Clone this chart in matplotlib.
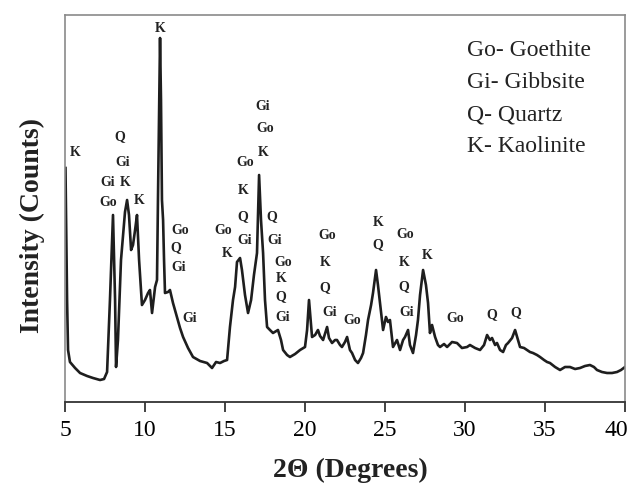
import matplotlib
matplotlib.use("Agg")
import matplotlib.pyplot as plt
import matplotlib.transforms as mtransforms

# XRD pattern (2-theta in degrees, intensity in arbitrary counts)
two_theta = [5.03, 5.13, 5.19, 5.31, 5.63, 5.94, 6.38, 6.75, 7.19, 7.44, 7.63, 7.81,
             8.0, 8.13, 8.19, 8.31, 8.5, 8.75, 8.88, 9.0, 9.13, 9.25, 9.38, 9.5,
             9.63, 9.81, 10.0, 10.19, 10.31, 10.44, 10.63, 10.75, 10.81, 10.94, 11.0, 11.06,
             11.13, 11.19, 11.25, 11.44, 11.56, 11.75, 12.0, 12.19, 12.38, 12.69, 13.0, 13.44,
             13.88, 14.19, 14.44, 14.69, 14.94, 15.13, 15.31, 15.5, 15.63, 15.75, 15.94, 16.06,
             16.25, 16.44, 16.63, 16.81, 17.0, 17.13, 17.25, 17.38, 17.5, 17.63, 17.81, 18.0,
             18.31, 18.5, 18.63, 18.88, 19.06, 19.38, 19.69, 20.0, 20.13, 20.25, 20.44, 20.63,
             20.81, 20.94, 21.13, 21.38, 21.5, 21.69, 21.88, 22.0, 22.19, 22.31, 22.5, 22.63,
             22.81, 22.94, 23.13, 23.31, 23.5, 23.63, 23.81, 23.94, 24.13, 24.25, 24.44, 24.56,
             24.69, 24.88, 25.06, 25.19, 25.31, 25.5, 25.75, 25.94, 26.13, 26.25, 26.44, 26.56,
             26.75, 26.94, 27.06, 27.19, 27.38, 27.56, 27.69, 27.81, 27.94, 28.13, 28.31, 28.44,
             28.69, 28.88, 29.19, 29.5, 29.81, 30.13, 30.31, 30.63, 30.94, 31.19, 31.38, 31.56,
             31.69, 31.88, 32.0, 32.19, 32.38, 32.56, 32.69, 32.94, 33.13, 33.31, 33.44, 33.69,
             33.88, 34.06, 34.25, 34.5, 34.69, 34.94, 35.13, 35.31, 35.63, 35.94, 36.25, 36.56,
             36.88, 37.19, 37.5, 37.81, 38.06, 38.25, 38.56, 38.88, 39.19, 39.5, 39.75, 40.0]
counts = [234, 102, 52, 40, 34, 29, 26, 24, 22, 23, 30, 102,
          187, 102, 35, 62, 142, 190, 202, 187, 152, 157, 172, 187,
          142, 97, 102, 109, 112, 89, 115, 122, 202, 364, 302, 202,
          182, 142, 109, 110, 112, 99, 85, 74, 65, 54, 45, 41,
          39, 34, 40, 39, 41, 42, 75, 102, 115, 140, 144, 132,
          107, 89, 102, 127, 149, 227, 182, 149, 102, 75, 72, 69,
          72, 62, 52, 47, 45, 48, 52, 55, 72, 102, 65, 67,
          72, 66, 62, 75, 64, 59, 62, 62, 57, 55, 60, 65,
          52, 49, 42, 39, 44, 49, 67, 82, 97, 109, 132, 117,
          99, 72, 85, 80, 82, 55, 62, 52, 62, 65, 72, 57,
          49, 67, 82, 107, 132, 117, 99, 69, 77, 65, 57, 55,
          58, 55, 60, 59, 54, 55, 57, 54, 52, 57, 67, 62,
          64, 57, 59, 52, 50, 57, 59, 64, 72, 62, 55, 54,
          52, 50, 49, 47, 45, 42, 40, 39, 35, 32, 35, 35,
          33, 34, 36, 37, 35, 32, 30, 29, 29, 30, 32, 35]

# phase labels: text, 2-theta, height
peak_labels = ["K", "Q", "Gi", "Gi", "K", "Go", "K", "K",
               "Go", "Q", "Gi", "Gi", "Go", "K",
               "Go", "K", "Q", "Gi", "Gi", "Go", "K", "Q", "Gi",
               "Go", "K", "Q", "Gi", "Go", "K", "Q", "Gi", "Go",
               "K", "Q", "Go", "K", "Q", "Gi", "K", "Go", "Q", "Q"]
label_theta = [5.63, 8.44, 8.63, 7.69, 8.75, 7.69, 9.63, 10.94,
               12.19, 11.94, 12.13, 12.81, 14.88, 15.13,
               16.25, 16.13, 16.13, 16.25, 17.38, 17.5, 17.38, 17.94, 18.13,
               18.63, 18.5, 18.5, 18.63, 21.38, 21.25, 21.25, 21.56, 22.94,
               24.56, 24.56, 26.25, 26.19, 26.19, 26.38, 27.63, 29.38, 31.69, 33.19]
label_height = [250, 265, 240, 219, 219, 199, 202, 374,
                172, 154, 135, 84, 172, 149,
                239, 212, 185, 162, 296, 274, 249, 185, 162,
                140, 124, 105, 85, 167, 140, 114, 90, 82,
                180, 157, 168, 140, 115, 90, 147, 84, 87, 89]

legend_lines = ["Go- Goethite", "Gi- Gibbsite", "Q- Quartz", "K- Kaolinite"]
xticks = [5, 10, 15, 20, 25, 30, 35, 40]

serif = "Liberation Serif"

fig = plt.figure(figsize=(6.33, 4.98), dpi=100)
ax = fig.add_axes([65 / 633, 1 - 402 / 498, 560 / 633, 387 / 498])

ax.plot(two_theta, counts, color="#1e1e1e", lw=1.9)

for txt, t, h in zip(peak_labels, label_theta, label_height):
    ax.text(t, h, txt, ha="center", va="center", family=serif,
            fontweight="bold", fontsize=10, color="#222222")

for i, line in enumerate(legend_lines):
    ax.text(0.717, 0.907 - i * 0.0825, line, transform=ax.transAxes,
            ha="left", va="center", family=serif, fontsize=17, color="#222222")

ax.set_xlim(5, 40)
ax.set_ylim(0, 387)
ax.set_xticks(xticks)
ax.set_xticklabels([str(v) for v in xticks], family=serif, fontsize=17)
ax.set_yticks([])
ax.tick_params(axis="x", direction="out", length=7, width=1.2, pad=6, color="#222222")

# keep the last tick label inside the figure
last = ax.get_xticklabels()[-1]
last.set_transform(last.get_transform()
                   + mtransforms.ScaledTranslation(-6 / 72, 0, fig.dpi_scale_trans))

for side in ["left", "top", "right"]:
    ax.spines[side].set_color("#8a8a8a")
    ax.spines[side].set_linewidth(1.2)
ax.spines["bottom"].set_color("#333333")
ax.spines["bottom"].set_linewidth(1.3)

fig.text(350 / 633, 1 - 470 / 498, "2\u0398 (Degrees)", ha="center", va="center",
         family=serif, fontweight="bold", fontsize=20, color="#222222")
fig.text(32 / 633, 1 - 225 / 498, "Intensity (Counts)", ha="center", va="center",
         rotation=90, family=serif, fontweight="bold", fontsize=20, color="#222222")

fig.savefig("out.png", dpi=100, facecolor="white")
